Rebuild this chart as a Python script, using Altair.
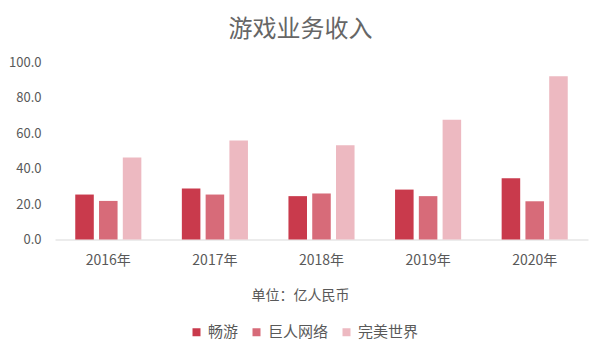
import altair as alt
import pandas as pd

years = ["2016年", "2017年", "2018年", "2019年", "2020年"]
series = ["畅游", "巨人网络", "完美世界"]
changyou = [25.4, 28.8, 24.5, 28.2, 34.6]
giant = [21.8, 25.4, 26.0, 24.5, 21.6]
perfect = [46.3, 56.0, 53.3, 67.6, 92.2]
colors = ["#C93A4C", "#D76B79", "#EDB9C1"]

rows = []
for s, vals in zip(series, [changyou, giant, perfect]):
    for y, v in zip(years, vals):
        rows.append({"year": y, "company": s, "value": v})
df = pd.DataFrame(rows)

FONT = "Noto Sans CJK SC"
GRAY = "#595959"

chart = alt.Chart(df).mark_bar().encode(
    x=alt.X("year:N", sort=years,
            scale=alt.Scale(paddingInner=0.38, paddingOuter=0.19),
            axis=alt.Axis(title="单位：亿人民币", labelAngle=0, ticks=False,
                          domainColor="#D9D9D9", labelFontSize=14, labelColor=GRAY,
                          labelPadding=14, titleFontSize=14, titleColor=GRAY,
                          titleFontWeight="normal", titlePadding=21, titleX=245)),
    xOffset=alt.XOffset("company:N", sort=series, scale=alt.Scale(paddingInner=0.22)),
    y=alt.Y("value:Q", scale=alt.Scale(domain=[0, 100]),
            axis=alt.Axis(title=None, values=[0, 20, 40, 60, 80, 100], format=".1f",
                          domain=False, ticks=False, grid=False, labelFontSize=13,
                          labelColor=GRAY, labelPadding=14)),
    color=alt.Color("company:N", sort=series,
                    scale=alt.Scale(domain=series, range=colors),
                    legend=alt.Legend(title=None, orient="none", direction="horizontal",
                                      legendX=134, legendY=262, symbolType="square",
                                      symbolSize=64, labelFontSize=15, labelColor=GRAY,
                                      columnPadding=10, labelOffset=4)),
).properties(
    width=533, height=177,
    title=alt.Title("游戏业务收入", fontSize=24, color="#666666", fontWeight="normal",
                    anchor="middle", dx=-21, offset=15),
    autosize=alt.AutoSizeParams(type="none"),
    padding={"left": 47, "top": 54.5, "right": 3, "bottom": 114},
).configure(font=FONT).configure_view(stroke=None)

chart.save("out.html", embed_options={"renderer": "svg", "actions": False})
